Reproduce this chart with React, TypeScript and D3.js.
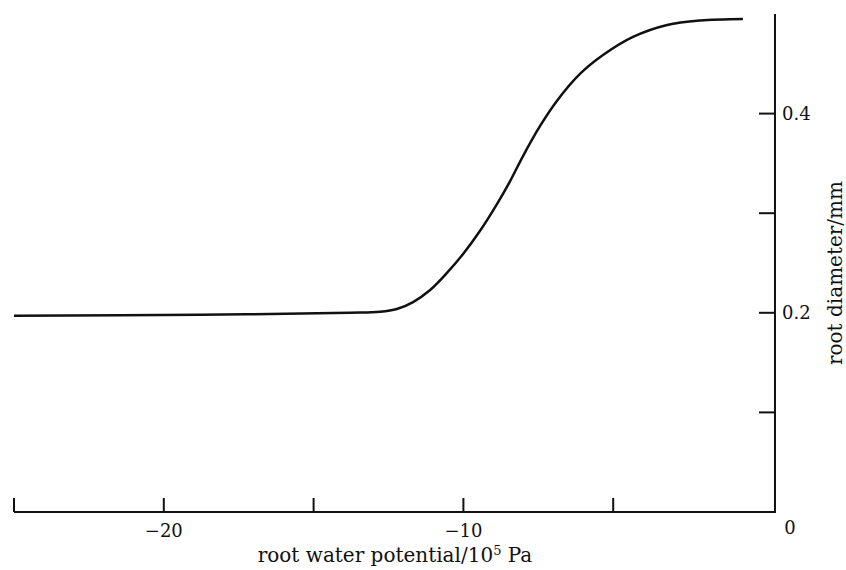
import React from "react";
import * as d3 from "d3";

const potential = [-25, -18.8, -13.8, -12.78, -12.22, -11.68, -11.11, -10.55, -10.01, -9.45, -8.88, -8.44, -8.01, -7.44, -6.88, -6.11, -5.34, -4.34, -3.2, -2.1, -0.67];
const diameter = [0.197, 0.198, 0.2, 0.201, 0.2038, 0.2108, 0.2229, 0.24, 0.259, 0.2821, 0.3092, 0.3323, 0.3574, 0.3876, 0.4127, 0.4398, 0.4588, 0.477, 0.489, 0.4935, 0.495];

const xTicks = [-25, -20, -15, -10, -5];
const xTickLabels = [
  { v: -20, t: "\u221220" },
  { v: -10, t: "\u221210" },
];
const yTicks = [0.1, 0.2, 0.3, 0.4];
const yTickLabels = [0.2, 0.4];

const W = 846;
const H = 570;
const FONT = "'DejaVu Serif', 'Liberation Serif', serif";

export default function App() {
  const x = d3.scaleLinear().domain([-25, 0]).range([14, 763]);
  const y = d3.scaleLinear().domain([0, 0.5]).range([512, 14]);
  const axisX = x(0.4);

  const line = d3
    .line<number>()
    .x((_, i) => x(potential[i]))
    .y((d) => y(d))
    .curve(d3.curveCatmullRom.alpha(0.5));

  return (
    <svg
      width={W}
      height={H}
      style={{ position: "absolute", left: 0, top: 0, background: "#fff" }}
      fontFamily={FONT}
    >
      <rect width={W} height={H} fill="#fff" />
      {/* x axis line */}
      <line x1={x(-25)} x2={axisX} y1={y(0)} y2={y(0)} stroke="#111" strokeWidth={2} />
      {xTicks.map((v) => (
        <line key={v} x1={x(v)} x2={x(v)} y1={y(0)} y2={y(0) - 14} stroke="#111" strokeWidth={2} />
      ))}
      {xTickLabels.map((d) => (
        <text key={d.v} x={x(d.v)} y={537} textAnchor="middle" fontSize={18} fill="#111">
          {d.t}
        </text>
      ))}
      <text x={axisX + 15} y={534} textAnchor="middle" fontSize={18} fill="#111">
        0
      </text>
      {/* y axis */}
      <line x1={axisX} x2={axisX} y1={y(0) + 1} y2={y(0.5)} stroke="#111" strokeWidth={2} />
      {yTicks.map((v) => (
        <line key={v} x1={axisX} x2={axisX - 16} y1={y(v)} y2={y(v)} stroke="#111" strokeWidth={2} />
      ))}
      {yTickLabels.map((v) => (
        <text key={v} x={axisX + 7} y={y(v) + 6.5} fontSize={18} fill="#111">
          {v.toFixed(1)}
        </text>
      ))}
      {/* curve */}
      <path d={line(diameter) || ""} fill="none" stroke="#111" strokeWidth={2.5} />
      {/* titles */}
      <text x={395} y={562} textAnchor="middle" fontSize={20} fill="#111">
        root water potential/10
        <tspan fontSize={13} dy={-7}>5</tspan>
        <tspan dy={7}> Pa</tspan>
      </text>
      <text
        transform={`translate(842, 273) rotate(-90)`}
        textAnchor="middle"
        fontSize={20}
        fill="#111"
      >
        root diameter/mm
      </text>
    </svg>
  );
}
